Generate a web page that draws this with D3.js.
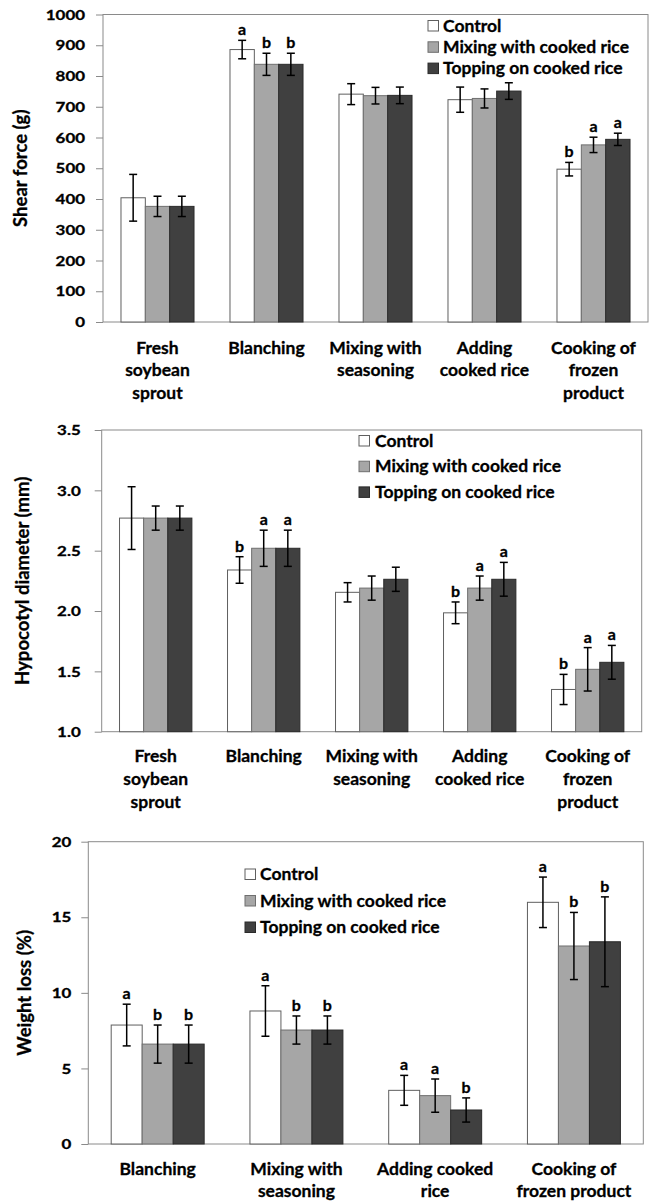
<!DOCTYPE html>
<html>
<head>
<meta charset="utf-8">
<script src="https://cdn.jsdelivr.net/npm/d3@7"></script>
<style>
  body { margin: 0; background: #fff; }
  text { font-family: Lato, "Open Sans", sans-serif; font-weight: bold; fill: #000; stroke: #000; stroke-width: 0.3px; }
</style>
</head>
<body>
<div id="fig"></div>
<script>
"use strict";

// series names
var series = ["Control", "Mixing with cooked rice", "Topping on cooked rice"];

// chart 1 : shear force
var cats1 = [["Fresh","soybean","sprout"], ["Blanching"], ["Mixing with","seasoning"], ["Adding","cooked rice"], ["Cooking of","frozen","product"]];
var control1 = [404, 886, 741, 723, 497];
var mixing1  = [376, 838, 736, 727, 576];
var topping1 = [376, 838, 737, 751, 594];
var controlSd1 = [76, 30, 34, 41, 22];
var mixingSd1  = [33, 36, 27, 31, 25];
var toppingSd1 = [33, 36, 27, 27, 20];
var letters1 = [["","",""], ["a","b","b"], ["","",""], ["","",""], ["b","a","a"]];
var ticks1 = [0, 100, 200, 300, 400, 500, 600, 700, 800, 900, 1000];

// chart 2 : hypocotyl diameter
var cats2 = cats1;
var control2 = [2.77, 2.34, 2.155, 1.985, 1.35];
var mixing2  = [2.77, 2.52, 2.19, 2.19, 1.517];
var topping2 = [2.77, 2.52, 2.263, 2.263, 1.575];
var controlSd2 = [0.26, 0.11, 0.08, 0.09, 0.125];
var mixingSd2  = [0.10, 0.15, 0.10, 0.10, 0.18];
var toppingSd2 = [0.10, 0.15, 0.10, 0.14, 0.14];
var letters2 = [["","",""], ["b","a","a"], ["","",""], ["b","a","a"], ["b","a","a"]];
var ticks2 = [1.0, 1.5, 2.0, 2.5, 3.0, 3.5];

// chart 3 : weight loss
var cats3 = [["Blanching"], ["Mixing with","seasoning"], ["Adding cooked","rice"], ["Cooking of","frozen product"]];
var control3 = [7.87, 8.8, 3.55, 15.99];
var mixing3  = [6.61, 7.54, 3.2, 13.1];
var topping3 = [6.61, 7.54, 2.25, 13.38];
var controlSd3 = [1.38, 1.67, 0.99, 1.67];
var mixingSd3  = [1.26, 0.93, 1.1, 2.22];
var toppingSd3 = [1.26, 0.93, 0.8, 2.97];
var letters3 = [["a","b","b"], ["a","b","b"], ["a","a","b"], ["a","b","b"]];
var ticks3 = [0, 5, 10, 15, 20];

var couleurs = ["#ffffff", "#a6a6a6", "#404040"];
var contours = ["#5f5f5f", "#6f6f6f", "#2a2a2a"];
var gris = "#8a8a8a";

var svg = d3.select("#fig").append("svg")
  .attr("width", 658)
  .attr("height", 1203);

function table(cats, vals, sds, lettres){
  return cats.map(function(c, i){
    return {
      cat: i,
      lignes: c,
      barres: vals.map(function(v, k){
        return { serie: k, val: v[i], sd: sds[k][i], lettre: lettres[i][k] };
      })
    };
  });
}

function graphe(opt){
  var g = svg.append("g");
  var x = d3.scaleBand()
    .domain(opt.data.map(function(d){ return d.cat; }))
    .range([opt.left, opt.right])
    .paddingInner(0.33)
    .paddingOuter(0.165);
  var xs = d3.scaleBand().domain([0,1,2]).range([0, x.bandwidth()]);
  var y = d3.scaleLinear().domain(opt.domain).range([opt.bottom, opt.top]);

  // axe y
  var axe = g.append("g")
    .attr("transform", "translate(" + opt.left + ",0)")
    .call(d3.axisLeft(y).tickValues(opt.ticks).tickSize(7).tickFormat(opt.format));
  axe.select(".domain").remove();
  axe.selectAll("line").attr("stroke", gris);
  axe.selectAll("text")
    .attr("font-size", "13px")
    .attr("transform", "scale(1.3,1)")
    .attr("x", -opt.gap / 1.3)
    .attr("dy", "0.36em");

  // cadre
  g.append("rect")
    .attr("x", opt.left).attr("y", opt.top)
    .attr("width", opt.right - opt.left)
    .attr("height", opt.bottom - opt.top)
    .attr("fill", "none")
    .attr("stroke", gris);

  // barres
  var groupes = g.selectAll("g.groupe")
    .data(opt.data)
    .enter().append("g")
    .attr("class", "groupe")
    .attr("transform", function(d){ return "translate(" + x(d.cat) + ",0)"; });

  groupes.selectAll("rect")
    .data(function(d){ return d.barres; })
    .enter().append("rect")
    .attr("x", function(b){ return xs(b.serie); })
    .attr("y", function(b){ return y(b.val); })
    .attr("width", xs.bandwidth())
    .attr("height", function(b){ return opt.bottom - y(b.val); })
    .attr("fill", function(b){ return couleurs[b.serie]; })
    .attr("stroke", function(b){ return contours[b.serie]; });

  // barres d'erreur
  var err = groupes.selectAll("g.err")
    .data(function(d){ return d.barres; })
    .enter().append("g")
    .attr("class", "err")
    .attr("stroke", "#000")
    .attr("stroke-width", 1.5)
    .attr("transform", function(b){ return "translate(" + (xs(b.serie) + xs.bandwidth()/2) + ",0)"; });
  err.append("line")
    .attr("y1", function(b){ return y(b.val + b.sd); })
    .attr("y2", function(b){ return y(b.val - b.sd); });
  err.append("line").attr("x1", -4).attr("x2", 4)
    .attr("y1", function(b){ return y(b.val + b.sd); })
    .attr("y2", function(b){ return y(b.val + b.sd); });
  err.append("line").attr("x1", -4).attr("x2", 4)
    .attr("y1", function(b){ return y(b.val - b.sd); })
    .attr("y2", function(b){ return y(b.val - b.sd); });

  // lettres
  groupes.selectAll("text.lettre")
    .data(function(d){ return d.barres; })
    .enter().append("text")
    .attr("class", "lettre")
    .attr("x", function(b){ return xs(b.serie) + xs.bandwidth()/2; })
    .attr("y", function(b){ return y(b.val + b.sd) - 5; })
    .attr("text-anchor", "middle")
    .attr("font-size", "16px")
    .text(function(b){ return b.lettre; });

  // etiquettes x
  var et = g.selectAll("text.cat")
    .data(opt.data)
    .enter().append("text")
    .attr("class", "cat")
    .attr("text-anchor", "middle")
    .attr("font-size", "17.5px")
    .attr("y", opt.bottom + opt.labelDy);
  et.selectAll("tspan")
    .data(function(d){ return d.lignes.map(function(l){ return { l: l, c: d.cat }; }); })
    .enter().append("tspan")
    .attr("x", function(t){ return x(t.c) + x.bandwidth()/2; })
    .attr("dy", function(t, i){ return i === 0 ? 0 : opt.ligne; })
    .text(function(t){ return t.l; });

  // titre y
  g.append("text")
    .attr("transform", "translate(" + opt.titreX + "," + ((opt.top + opt.bottom)/2) + ") rotate(-90)")
    .attr("text-anchor", "middle")
    .attr("font-size", "18.5px")
    .text(opt.titre);

  // legende
  var leg = g.selectAll("g.leg")
    .data(series)
    .enter().append("g")
    .attr("class", "leg")
    .attr("transform", function(d, i){ return "translate(" + opt.legX + "," + (opt.legY + i * opt.legPas) + ")"; });
  leg.append("rect")
    .attr("x", 0).attr("y", -11)
    .attr("width", 10.5).attr("height", 10.5)
    .attr("fill", function(d, i){ return couleurs[i]; })
    .attr("stroke", function(d, i){ return contours[i]; });
  leg.append("text")
    .attr("x", opt.legTexte)
    .attr("font-size", "17.5px")
    .text(function(d){ return d; });
}

graphe({
  data: table(cats1, [control1, mixing1, topping1], [controlSd1, mixingSd1, toppingSd1], letters1),
  domain: [0, 1000], ticks: ticks1, format: d3.format("d"),
  left: 103, right: 648, top: 14.5, bottom: 322, gap: 18,
  labelDy: 31.5, ligne: 22.5,
  titre: "Shear force (g)", titreX: 27,
  legX: 428, legY: 31.5, legPas: 21.3, legTexte: 15
});

graphe({
  data: table(cats2, [control2, mixing2, topping2], [controlSd2, mixingSd2, toppingSd2], letters2),
  domain: [1, 3.5], ticks: ticks2, format: d3.format(".1f"),
  left: 101.7, right: 641.7, top: 430, bottom: 731.7, gap: 21,
  labelDy: 30, ligne: 23,
  titre: "Hypocotyl diameter (mm)", titreX: 29,
  legX: 359, legY: 446.5, legPas: 25.7, legTexte: 16
});

graphe({
  data: table(cats3, [control3, mixing3, topping3], [controlSd3, mixingSd3, toppingSd3], letters3),
  domain: [0, 20], ticks: ticks3, format: d3.format("d"),
  left: 88.3, right: 643.3, top: 841.7, bottom: 1144, gap: 17,
  labelDy: 31, ligne: 22,
  titre: "Weight loss (%)", titreX: 31,
  legX: 245, legY: 880, legPas: 26.5, legTexte: 15
});
</script>
</body>
</html>
